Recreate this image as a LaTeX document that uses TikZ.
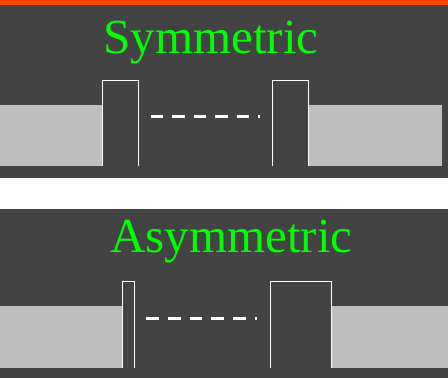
\documentclass[tikz,border=0pt]{standalone}
\usepackage{fontspec}
\setmainfont{Liberation Serif}
\definecolor{panel}{HTML}{434343}
\definecolor{blockgray}{HTML}{BEBEBE}
\definecolor{topbar}{HTML}{FF4500}
\definecolor{titlegreen}{HTML}{00FF00}
\tikzset{
  title/.style={text=titlegreen, font=\fontsize{49}{49}\selectfont, anchor=base, inner sep=0pt},
  gap/.style={draw=white, line width=1pt},
  dashline/.style={draw=white, line width=3.3pt, dash pattern=on 12.5pt off 9pt},
  block/.style={fill=blockgray}
}
\begin{document}
\begin{tikzpicture}[x=1pt,y=-1pt]
\useasboundingbox (0,0) rectangle (448,378);
\fill[white] (0,0) rectangle (448,378);
% top panel
\fill[panel] (0,0) rectangle (448,178);
\fill[topbar] (0,0) rectangle (448,5);
\node[title] (sym) at (211,53) {Symmetric};
\fill[block] (0,105) rectangle (102.7,165.7);
\fill[block] (308.5,105) rectangle (442,165.7);
\draw[gap] (102.5,165.7) -- (102.5,80.5) -- (138.5,80.5) -- (138.5,165.7);
\draw[gap] (272.3,165.7) -- (272.3,80.5) -- (308.3,80.5) -- (308.3,165.7);
\coordinate (s1) at (150.7,116.7);
\coordinate (s2) at (260,116.7);
\draw[dashline] (s1) -- (s2);
% bottom panel
\fill[panel] (0,209) rectangle (448,378);
\node[title] (asym) at (231.3,252.3) {Asymmetric};
\fill[block] (0,306) rectangle (122.3,367.7);
\fill[block] (331,306) rectangle (448,367.7);
\draw[gap] (122,367.7) -- (122,281.5) -- (134,281.5) -- (134,367.7);
\draw[gap] (270,367.7) -- (270,281.5) -- (331,281.5) -- (331,367.7);
\coordinate (a1) at (146.3,318.3);
\coordinate (a2) at (257.3,318.3);
\draw[dashline, dash pattern=on 12.7pt off 9pt] (a1) -- (a2);
\end{tikzpicture}
\end{document}
